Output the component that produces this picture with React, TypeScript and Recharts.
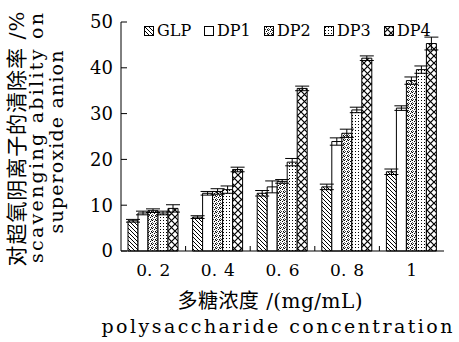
import React from 'react'
import { BarChart, Bar, XAxis, YAxis, ErrorBar, Legend } from 'recharts'

const categories = ['0.2', '0.4', '0.6', '0.8', '1']
const glp = [6.6, 7.4, 12.6, 14.0, 17.3]
const dp1 = [8.3, 12.6, 14.0, 23.9, 31.2]
const dp2 = [8.8, 13.0, 15.2, 25.7, 37.2]
const dp3 = [8.3, 13.4, 19.4, 30.8, 39.6]
const dp4 = [9.3, 17.8, 35.5, 42.1, 45.3]
const glpErr = [0.3, 0.3, 0.6, 0.6, 0.6]
const dp1Err = [0.4, 0.4, 1.3, 0.8, 0.5]
const dp2Err = [0.4, 0.6, 0.4, 0.9, 0.8]
const dp3Err = [0.4, 0.8, 0.8, 0.6, 0.8]
const dp4Err = [0.8, 0.5, 0.5, 0.5, 1.4]
const yTicks = [0, 10, 20, 30, 40, 50]

const series = [
  { key: 'GLP', values: glp, errors: glpErr, fill: 'url(#pGLP)' },
  { key: 'DP1', values: dp1, errors: dp1Err, fill: '#fff' },
  { key: 'DP2', values: dp2, errors: dp2Err, fill: 'url(#pDP2)' },
  { key: 'DP3', values: dp3, errors: dp3Err, fill: 'url(#pDP3)' },
  { key: 'DP4', values: dp4, errors: dp4Err, fill: 'url(#pDP4)' },
]

const data = categories.map((c, i) => {
  const row: Record<string, string | number> = { conc: c }
  series.forEach(s => {
    row[s.key] = s.values[i]
    row[s.key + 'Err'] = s.errors[i]
  })
  return row
})

const SERIF = "'DejaVu Serif', 'Noto Sans CJK SC', serif"

// x tick: label ("0. 2" style, space after the point) plus small upward tick on the group boundary
const XTick = (props: any) => {
  const { x, y, payload, index } = props
  const half = payload?.offset || 32.3
  const value = String(payload.value)
  const dot = value.indexOf('.')
  return (
    <g>
      <text x={x} y={y + 25} textAnchor="middle" fontFamily={SERIF} fontSize={17} fill="#000">
        {dot >= 0 ? (
          <>
            <tspan>{value.slice(0, dot + 1)}</tspan>
            <tspan dx={7}>{value.slice(dot + 1)}</tspan>
          </>
        ) : value}
      </text>
      {index < categories.length - 1 && (
        <line x1={x + half} x2={x + half} y1={y} y2={y - 5} stroke="#000" />
      )}
    </g>
  )
}

const LegendContent = () => (
  <div style={{ display: 'flex', alignItems: 'center', fontFamily: SERIF, fontSize: 16, color: '#000', lineHeight: '18px' }}>
    {series.map(s => (
      <div key={s.key} style={{ display: 'flex', alignItems: 'center', width: 60 }}>
        <svg width={10} height={10} style={{ marginRight: 3 }}>
          <rect x={0.5} y={0.5} width={9} height={9} fill={s.fill} stroke="#000" />
        </svg>
        <span>{s.key}</span>
      </div>
    ))}
  </div>
)

export default function App() {
  return (
    <div style={{ position: 'absolute', left: 0, top: 0, width: 459, height: 342, background: '#fff' }}>
      <BarChart width={459} height={342} data={data} margin={{ top: 22, right: 15, bottom: 61, left: 61 }} barSize={10} barGap={0}>
        <defs>
          <pattern id="pGLP" width={4} height={4} patternUnits="userSpaceOnUse">
            <rect width={4} height={4} fill="#fff" />
            <path d="M-1,-1 L5,5 M-1,3 L1,5 M3,-1 L5,1" stroke="#000" strokeWidth={1} />
          </pattern>
          <pattern id="pDP2" width={4} height={4} patternUnits="userSpaceOnUse">
            <rect width={4} height={4} fill="#fff" />
            <rect x={0} y={0} width={1} height={1} fill="#000" />
            <rect x={2} y={1} width={1} height={1} fill="#000" />
            <rect x={3} y={3} width={1} height={1} fill="#000" />
            <rect x={1} y={3} width={1} height={1} fill="#444" />
            <rect x={0} y={2} width={1} height={1} fill="#666" />
            <rect x={3} y={0} width={1} height={1} fill="#888" />
          </pattern>
          <pattern id="pDP3" width={3} height={3} patternUnits="userSpaceOnUse">
            <rect width={3} height={3} fill="#fff" />
            <rect x={1} y={1} width={1} height={1} fill="#000" />
          </pattern>
          <pattern id="pDP4" width={7} height={7} patternUnits="userSpaceOnUse">
            <rect width={7} height={7} fill="#fff" />
            <path d="M0,0 L7,7 M7,0 L0,7" stroke="#000" strokeWidth={1.2} />
          </pattern>
        </defs>
        <XAxis dataKey="conc" height={30} axisLine={{ stroke: '#000' }} tickLine={false} tickSize={0} tickMargin={0} tick={<XTick />} interval={0} />
        <YAxis
          width={60}
          domain={[0, 50]}
          ticks={yTicks}
          interval={0}
          axisLine={{ stroke: '#000' }}
          tickLine={{ stroke: '#000' }}
          tickSize={-6}
          tickMargin={14}
          tick={{ fontFamily: SERIF, fontSize: 18, fill: '#000' }}
        />
        <Legend
          layout="horizontal"
          verticalAlign="middle"
          align="center"
          content={<LegendContent />}
          wrapperStyle={{ position: 'absolute', top: 22, left: 144, width: 310 }}
        />
        {series.map(s => (
          <Bar key={s.key} dataKey={s.key} name={s.key} fill={s.fill} stroke="#000" strokeWidth={1} isAnimationActive={false}>
            <ErrorBar dataKey={s.key + 'Err'} width={7} stroke="#000" strokeWidth={1} direction="y" />
          </Bar>
        ))}
        <text transform="translate(17,139) rotate(-90)" textAnchor="middle" dominantBaseline="central" fontFamily={SERIF} fontSize={21} textLength={255} lengthAdjust="spacing" fill="#000">对超氧阴离子的清除率 /%</text>
        <text transform="translate(36,138) rotate(-90)" textAnchor="middle" dominantBaseline="central" fontFamily={SERIF} fontSize={19} textLength={250} lengthAdjust="spacing" fill="#000">scavenging ability on</text>
        <text transform="translate(56,142) rotate(-90)" textAnchor="middle" dominantBaseline="central" fontFamily={SERIF} fontSize={19} textLength={183} lengthAdjust="spacing" fill="#000">superoxide anion</text>
        <text x={270} y={301} textAnchor="middle" dominantBaseline="central" fontFamily={SERIF} fontSize={20} textLength={185} lengthAdjust="spacing" fill="#000">多糖浓度 /(mg/mL)</text>
        <text x={277} y={326} textAnchor="middle" dominantBaseline="central" fontFamily={SERIF} fontSize={19} textLength={351} lengthAdjust="spacing" fill="#000">polysaccharide concentration</text>
      </BarChart>
    </div>
  )
}
